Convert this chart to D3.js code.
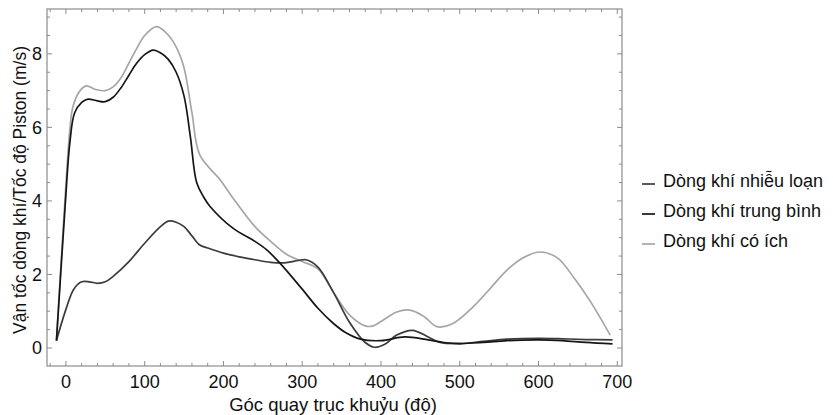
<!DOCTYPE html>
<html>
<head>
	<meta charset="utf-8">
	<script src="https://d3js.org/d3.v7.min.js"></script>
	<style>
		body { margin: 0; background: #fff; }
		text { font-family: "Liberation Sans", Arial, sans-serif; fill: #111; }
	</style>
</head>
<body>
	<svg width="833" height="415"></svg>
<script>
// góc quay trục khuỷu (độ) và vận tốc (m/s) cho từng dòng khí
const turbAngle = [-12, 0, 10, 20, 30, 40, 50, 60, 80, 100, 120, 130, 140, 150, 160, 170, 180, 200, 220, 240, 260, 280, 295, 305, 320, 340, 360, 380, 392, 405, 420, 440, 460, 475, 500, 530, 560, 600, 630, 660, 694];
const turbVal   = [0.2, 1.05, 1.6, 1.8, 1.8, 1.76, 1.8, 1.95, 2.35, 2.85, 3.3, 3.45, 3.42, 3.3, 3.05, 2.8, 2.72, 2.58, 2.48, 2.4, 2.33, 2.32, 2.38, 2.4, 2.2, 1.5, 0.7, 0.15, 0.02, 0.1, 0.35, 0.48, 0.3, 0.15, 0.12, 0.18, 0.24, 0.26, 0.25, 0.23, 0.22];

const meanAngle = [-12, -1, 5, 11, 20, 28, 40, 50, 60, 70, 80, 90, 100, 111, 120, 130, 140, 150, 158, 166, 175, 183, 212, 240, 255, 272, 300, 320, 339, 355, 374, 400, 430, 460, 480, 500, 530, 560, 600, 630, 660, 694];
const meanVal   = [0.2, 3.85, 5.58, 6.39, 6.68, 6.77, 6.72, 6.7, 6.82, 7.08, 7.42, 7.75, 7.98, 8.1, 8.03, 7.85, 7.5, 6.85, 5.75, 4.5, 4.1, 3.85, 3.26, 2.9, 2.67, 2.3, 1.6, 1.08, 0.68, 0.42, 0.24, 0.2, 0.3, 0.22, 0.15, 0.12, 0.15, 0.2, 0.22, 0.2, 0.15, 0.11];

const usefulAngle = [-12, -1, 5, 9, 18, 26, 38, 50, 60, 70, 80, 90, 100, 115, 125, 136, 149, 160, 170, 196, 212, 240, 260, 280, 300, 320, 340, 360, 380, 390, 400, 420, 437, 455, 471, 490, 517, 540, 560, 580, 602, 624, 644, 666, 691];
const usefulVal   = [0.2, 4.1, 5.93, 6.57, 7.0, 7.13, 7.03, 7.0, 7.1, 7.35, 7.75, 8.15, 8.5, 8.74, 8.62, 8.34, 7.7, 6.4, 5.25, 4.57, 4.08, 3.3, 2.9, 2.55, 2.35, 2.15, 1.5, 0.9, 0.6, 0.6, 0.72, 0.98, 1.03, 0.85, 0.58, 0.65, 1.12, 1.65, 2.12, 2.45, 2.61, 2.45, 1.94, 1.26, 0.35];

const seriesNames = ["Dòng khí nhiễu loạn", "Dòng khí trung bình", "Dòng khí có ích"];
const seriesColors = ["#3c3c3c", "#161616", "#a6a6a6"];

const xTicks = [0, 100, 200, 300, 400, 500, 600, 700];
const yTicks = [0, 2, 4, 6, 8];

const svg = d3.select("svg");
const plotL = 47, plotR = 622, plotT = 9, plotB = 366;

const x = d3.scaleLinear().domain([-24, 706]).range([plotL, plotR]);
const y = d3.scaleLinear().domain([-0.49, 9.22]).range([plotB, plotT]);

const frameColor = "#8c8c8c";

// minor ticks on all four sides, pointing inwards
const xMinor = d3.range(-20, 706, 20);
const yMinor = d3.range(-0.5, 9.22, 0.5).filter(v => v >= -0.49);

function tickLen(isMajor) { return isMajor ? 5 : 3; }

const ticks = svg.append("g").attr("stroke", frameColor).attr("stroke-width", 1);
xMinor.forEach(v => {
	const L = tickLen(v % 100 === 0);
	ticks.append("line").attr("x1", x(v)).attr("x2", x(v)).attr("y1", plotB).attr("y2", plotB - L);
	ticks.append("line").attr("x1", x(v)).attr("x2", x(v)).attr("y1", plotT).attr("y2", plotT + L);
});
yMinor.forEach(v => {
	const L = tickLen(Math.abs(v % 2) < 1e-9);
	ticks.append("line").attr("y1", y(v)).attr("y2", y(v)).attr("x1", plotL).attr("x2", plotL + L);
	ticks.append("line").attr("y1", y(v)).attr("y2", y(v)).attr("x1", plotR).attr("x2", plotR - L);
});

svg.append("rect")
	.attr("x", plotL).attr("y", plotT)
	.attr("width", plotR - plotL).attr("height", plotB - plotT)
	.attr("fill", "none").attr("stroke", frameColor).attr("stroke-width", 1.2);

// tick labels
svg.append("g").selectAll("text").data(xTicks).join("text")
	.attr("x", d => x(d)).attr("y", plotB + 22)
	.attr("text-anchor", "middle").attr("font-size", 18)
	.text(d => d);

svg.append("g").selectAll("text").data(yTicks).join("text")
	.attr("x", plotL - 5).attr("y", d => y(d) + 6.5)
	.attr("text-anchor", "end").attr("font-size", 18)
	.text(d => d);

// axis titles
svg.append("text")
	.attr("x", 333).attr("y", 411)
	.attr("text-anchor", "middle").attr("font-size", 18.5)
	.text("Góc quay trục khuỷu (độ)");

svg.append("text")
	.attr("transform", "translate(25.5,190) rotate(-90)")
	.attr("text-anchor", "middle").attr("font-size", 17.5)
	.text("Vận tốc dòng khí/Tốc độ Piston (m/s)");

// lines
const series = [
	{angle: turbAngle, val: turbVal},
	{angle: meanAngle, val: meanVal},
	{angle: usefulAngle, val: usefulVal}
];

const line = d3.line()
	.x(d => x(d[0]))
	.y(d => y(d[1]))
	.curve(d3.curveCatmullRom.alpha(0.5));

[2, 0, 1].forEach(i => {
	const pts = series[i].angle.map((a, k) => [a, series[i].val[k]]);
	svg.append("path")
		.attr("d", line(pts))
		.attr("fill", "none")
		.attr("stroke", seriesColors[i])
		.attr("stroke-width", 1.7);
});

// legend
const legend = svg.append("g");
seriesNames.forEach((name, i) => {
	const base = 187 + i * 30;
	legend.append("line")
		.attr("x1", 642).attr("x2", 655)
		.attr("y1", base - 3).attr("y2", base - 3)
		.attr("stroke", seriesColors[i]).attr("stroke-width", 1.7);
	legend.append("text")
		.attr("x", 663).attr("y", base)
		.attr("font-size", 18)
		.text(name);
});
</script>
</body>
</html>
